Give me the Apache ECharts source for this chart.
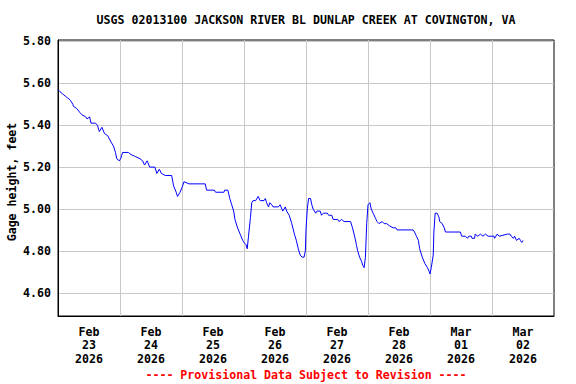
<!DOCTYPE html>
<html>
<head>
<meta charset="utf-8">
<script src="https://cdn.jsdelivr.net/npm/echarts@6/dist/echarts.min.js"></script>
<style>
  html, body { margin: 0; padding: 0; background: #fff; }
  #chart { width: 576px; height: 384px; }
</style>
</head>
<body>
<div id="chart"></div>
<script>
// ---- Data (hours since 2026-02-23 00:00, gage height in feet) ----
const titleText = 'USGS 02013100 JACKSON RIVER BL DUNLAP CREEK AT COVINGTON, VA';
const footerText = '---- Provisional Data Subject to Revision ----';
const yAxisTitle = 'Gage height, feet';

const hours = [
  0, 0.75, 1.75, 2.75, 3.75, 4.75, 5.75, 6, 7.25, 8.5, 9.25, 10.75, 11.25, 12.25, 12.75, 14.5, 15.25, 16, 17, 18,
  19.25, 20.5, 21.5, 22.25, 22.75, 23.75, 24.25, 25, 27.25, 28.25, 30, 31.75, 32.75, 33.5, 34.5, 35.5, 37.5, 38.25, 39.25, 40,
  41.5, 44, 44.75, 45.75, 46.25, 47.25, 48.25, 48.75, 50.75, 57, 57.5, 58.5, 60.5, 61, 64.25, 64.5, 65.75, 66.5, 67.25, 68,
  68.5, 69.5, 70.5, 71.5, 72, 72.75, 73.25, 73.75, 74.5, 75, 75.5, 76.5, 77.5, 78.25, 79.75, 80.25, 80.75, 81.5, 82, 82.75,
  83.25, 85.25, 86, 87, 88, 88.5, 89.5, 90.5, 91.5, 92.25, 93, 93.75, 94.5, 95.25, 95.75, 96, 96.5, 97, 97.75, 98.25,
  98.75, 99.75, 100.25, 101.5, 102, 102.75, 104.25, 104.75, 106, 106.5, 108.25, 108.75, 109.75, 110.75, 113.25, 114, 115, 115.5, 116, 116.75,
  117.5, 118, 118.5, 119, 119.5, 120, 120.75, 121.25, 122, 122.75, 123.5, 124.25, 125.5, 126.25, 127.25, 128.25, 129.75, 130.75, 131.25, 137.5,
  138, 138.75, 139.5, 140, 141, 142, 143, 143.75, 144, 144.5, 145.25, 145.5, 146, 146.75, 147.5, 147.75, 148.75, 149.5, 150, 153.25,
  153.5, 155.75, 156.25, 157.75, 158.5, 159, 160, 160.25, 161.25, 161.5, 162.5, 163.5, 164.5, 165.5, 166.5, 168.75, 169, 170, 170.75, 174,
  175, 175.5, 176.25, 176.75, 177.5, 178.5, 179, 179.5, 180, 180.25
];
const gageHeight = [
  5.57, 5.56, 5.55, 5.54, 5.53, 5.52, 5.50, 5.49, 5.48, 5.46, 5.45, 5.44, 5.43, 5.44, 5.41, 5.41, 5.40, 5.37, 5.39, 5.36,
  5.35, 5.32, 5.30, 5.27, 5.24, 5.23, 5.24, 5.27, 5.27, 5.26, 5.25, 5.24, 5.23, 5.21, 5.23, 5.20, 5.20, 5.17, 5.19, 5.17,
  5.16, 5.16, 5.11, 5.08, 5.06, 5.08, 5.11, 5.13, 5.12, 5.12, 5.09, 5.09, 5.09, 5.08, 5.08, 5.09, 5.09, 5.05, 5.02, 4.99,
  4.95, 4.91, 4.88, 4.85, 4.84, 4.83, 4.81, 4.87, 4.96, 5.03, 5.04, 5.04, 5.06, 5.04, 5.04, 5.05, 5.03, 5.01, 5.03, 5.02,
  5.01, 5.01, 5.02, 4.99, 5.01, 4.99, 4.97, 4.93, 4.88, 4.85, 4.81, 4.78, 4.77, 4.77, 4.80, 4.90, 5.00, 5.05, 5.05, 5.02,
  5.00, 4.98, 4.99, 4.99, 4.97, 4.98, 4.98, 4.97, 4.97, 4.95, 4.95, 4.94, 4.95, 4.94, 4.94, 4.91, 4.86, 4.83, 4.80, 4.77,
  4.75, 4.73, 4.72, 4.77, 4.93, 5.02, 5.03, 5.00, 4.98, 4.96, 4.94, 4.93, 4.94, 4.93, 4.93, 4.92, 4.91, 4.91, 4.90, 4.90,
  4.89, 4.87, 4.85, 4.81, 4.77, 4.74, 4.72, 4.70, 4.69, 4.72, 4.78, 4.89, 4.98, 4.98, 4.96, 4.94, 4.93, 4.91, 4.89, 4.89,
  4.89, 4.89, 4.87, 4.87, 4.86, 4.87, 4.87, 4.86, 4.86, 4.88, 4.87, 4.88, 4.87, 4.88, 4.87, 4.87, 4.86, 4.88, 4.87, 4.88,
  4.88, 4.87, 4.86, 4.87, 4.85, 4.86, 4.85, 4.84, 4.85, 4.85
];

const dayTickHours = [24, 48, 72, 96, 120, 144, 168];
const labelHours = [12, 36, 60, 84, 108, 132, 156, 180];
const xTickLabels = ['Feb\n23\n2026', 'Feb\n24\n2026', 'Feb\n25\n2026', 'Feb\n26\n2026',
                     'Feb\n27\n2026', 'Feb\n28\n2026', 'Mar\n01\n2026', 'Mar\n02\n2026'];
const yTickValues = [4.6, 4.8, 5.0, 5.2, 5.4, 5.6, 5.8];
const xMin = 0, xMax = 192;
const yMin = 4.489, yMax = 5.807;

// ---- Chart ----
const FONT = '"DejaVu Sans Mono", "Liberation Mono", monospace';
const chart = echarts.init(document.getElementById('chart'), null, { renderer: 'svg' });
const seriesData = hours.map((h, i) => [h, gageHeight[i]]);

chart.setOption({
  animation: false,
  backgroundColor: '#ffffff',
  textStyle: { fontFamily: FONT },
  grid: {
    left: 58, right: 22, top: 40, bottom: 68,
    containLabel: false, outerBoundsMode: 'none',
    show: true, borderColor: '#000', borderWidth: 1, backgroundColor: '#fff'
  },
  graphic: [
    {
      type: 'text', x: 306, y: 20,
      style: {
        text: titleText, fill: '#000', align: 'center', verticalAlign: 'middle',
        font: 'bold 11.6px ' + FONT
      }
    },
    {
      type: 'text', x: 306, y: 375,
      style: {
        text: footerText, fill: '#ff0000', align: 'center', verticalAlign: 'middle',
        font: 'bold 11.6px ' + FONT
      }
    }
  ],
  xAxis: {
    type: 'value', min: xMin, max: xMax,
    axisLine: { show: true, lineStyle: { color: '#000', width: 1 } },
    axisTick: { show: false, customValues: dayTickHours },
    splitLine: { show: true, lineStyle: { color: '#c8c8c8', width: 1 } },
    axisLabel: {
      customValues: labelHours,
      color: '#000', fontWeight: 'bold', fontSize: 11.6, fontFamily: FONT,
      lineHeight: 13.5, margin: 9,
      formatter: function (v) {
        const idx = labelHours.indexOf(Math.round(v));
        return idx >= 0 ? xTickLabels[idx] : '';
      }
    }
  },
  yAxis: {
    type: 'value', min: yMin, max: yMax,
    name: yAxisTitle, nameLocation: 'middle', nameGap: 40, nameMoveOverlap: false,
    nameTextStyle: { color: '#000', fontWeight: 'bold', fontSize: 11.6, fontFamily: FONT, padding: [0, 8, 0, 0] },
    axisLine: { show: true, lineStyle: { color: '#000', width: 1 } },
    axisTick: { show: false, customValues: yTickValues },
    splitLine: { show: true, lineStyle: { color: '#c8c8c8', width: 1 } },
    axisLabel: {
      customValues: yTickValues,
      color: '#000', fontWeight: 'bold', fontSize: 11.6, fontFamily: FONT, margin: 7,
      formatter: function (v) { return v.toFixed(2); }
    }
  },
  series: [{
    type: 'line',
    data: seriesData,
    showSymbol: false,
    symbol: 'none',
    lineStyle: { color: '#0000ff', width: 1 },
    itemStyle: { color: '#0000ff' }
  }]
});
</script>
</body>
</html>
